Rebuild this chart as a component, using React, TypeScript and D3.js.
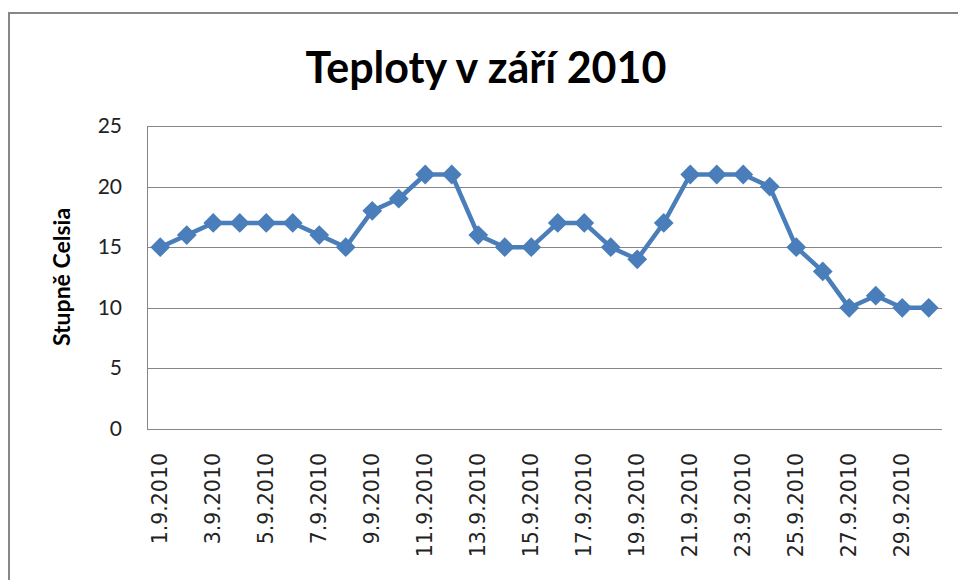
import React, { useEffect, useRef } from "react";
import * as d3 from "d3";

// data
const days: string[] = [
  "1.9.2010", "2.9.2010", "3.9.2010", "4.9.2010", "5.9.2010", "6.9.2010",
  "7.9.2010", "8.9.2010", "9.9.2010", "10.9.2010", "11.9.2010", "12.9.2010",
  "13.9.2010", "14.9.2010", "15.9.2010", "16.9.2010", "17.9.2010", "18.9.2010",
  "19.9.2010", "20.9.2010", "21.9.2010", "22.9.2010", "23.9.2010", "24.9.2010",
  "25.9.2010", "26.9.2010", "27.9.2010", "28.9.2010", "29.9.2010", "30.9.2010",
];
const temps: number[] = [
  15, 16, 17, 17, 17, 17, 16, 15, 18, 19, 21, 21, 16, 15, 15,
  17, 17, 15, 14, 17, 21, 21, 21, 20, 15, 13, 10, 11, 10, 10,
];
const yTicks: number[] = [0, 5, 10, 15, 20, 25];
const title = "Teploty v září 2010";
const yTitle = "Stupně Celsia";

const W = 958;
const H = 580;
const blue = "#4a7ebb";

const App = () => {
  const svgRef = useRef<SVGSVGElement>(null);

  useEffect(() => {
    const svg = d3.select(svgRef.current);
    svg.selectAll("*").remove();

    const plot = { left: 147, right: 942, top: 126, bottom: 429 };

    const x = d3.scaleBand<string>().domain(days).range([plot.left, plot.right]);
    const y = d3.scaleLinear().domain([0, 25]).range([plot.bottom, plot.top]);
    const cx = (d: string) => (x(d) as number) + x.bandwidth() / 2;

    // outer chart frame
    svg.append("rect")
      .attr("x", 9).attr("y", 13)
      .attr("width", W + 20).attr("height", H + 20)
      .attr("fill", "#fff")
      .attr("stroke", "#878787")
      .attr("stroke-width", 2);

    // title
    svg.append("text")
      .attr("x", 486).attr("y", 83)
      .attr("text-anchor", "middle")
      .attr("font-family", "Lato, sans-serif")
      .attr("font-weight", 700)
      .attr("font-size", 43)
      .text(title);

    // gridlines
    svg.append("g")
      .selectAll("line")
      .data(yTicks.filter((t) => t > 0))
      .join("line")
      .attr("x1", plot.left).attr("x2", plot.right)
      .attr("y1", (d) => Math.round(y(d)) + 0.5)
      .attr("y2", (d) => Math.round(y(d)) + 0.5)
      .attr("stroke", "#868686")
      .attr("stroke-width", 1);

    // axes lines
    svg.append("line")
      .attr("x1", plot.left + 0.5).attr("x2", plot.left + 0.5)
      .attr("y1", plot.top).attr("y2", plot.bottom)
      .attr("stroke", "#868686");
    svg.append("line")
      .attr("x1", plot.left).attr("x2", plot.right)
      .attr("y1", plot.bottom + 0.5).attr("y2", plot.bottom + 0.5)
      .attr("stroke", "#868686");

    // y tick labels
    svg.append("g")
      .selectAll("text")
      .data(yTicks)
      .join("text")
      .attr("x", 122)
      .attr("y", (d) => y(d) + 7)
      .attr("text-anchor", "end")
      .attr("font-family", "Lato, sans-serif")
      .attr("font-size", 21)
      .attr("fill", "#222")
      .text((d) => d);

    // y axis title
    svg.append("text")
      .attr("transform", `translate(70, 277) rotate(-90)`)
      .attr("text-anchor", "middle")
      .attr("font-family", "Lato, sans-serif")
      .attr("font-weight", 700)
      .attr("font-size", 23)
      .text(yTitle);

    // x labels, every other day
    svg.append("g")
      .selectAll("text")
      .data(days.filter((_, i) => i % 2 === 0))
      .join("text")
      .attr("transform", (d) => `translate(${cx(d) + 7}, 453) rotate(-90)`)
      .attr("text-anchor", "end")
      .attr("font-family", "DejaVu Sans, sans-serif")
      .attr("font-size", 20.5)
      .attr("fill", "#222")
      .text((d) => d);

    // line
    const line = d3.line<number>()
      .x((_, i) => cx(days[i]))
      .y((d) => y(d));
    svg.append("path")
      .datum(temps)
      .attr("d", line)
      .attr("fill", "none")
      .attr("stroke", blue)
      .attr("stroke-width", 4.5)
      .attr("stroke-linejoin", "round");

    // diamond markers
    const diamond = d3.symbol().type(d3.symbolDiamond2).size(250);
    svg.append("g")
      .selectAll("path")
      .data(temps)
      .join("path")
      .attr("transform", (d, i) => `translate(${cx(days[i])}, ${y(d)})`)
      .attr("d", diamond)
      .attr("fill", blue);
  }, []);

  return (
    <svg
      ref={svgRef}
      width={W}
      height={H}
      style={{ position: "absolute", left: 0, top: 0, background: "#fff" }}
    />
  );
};

export default App;
